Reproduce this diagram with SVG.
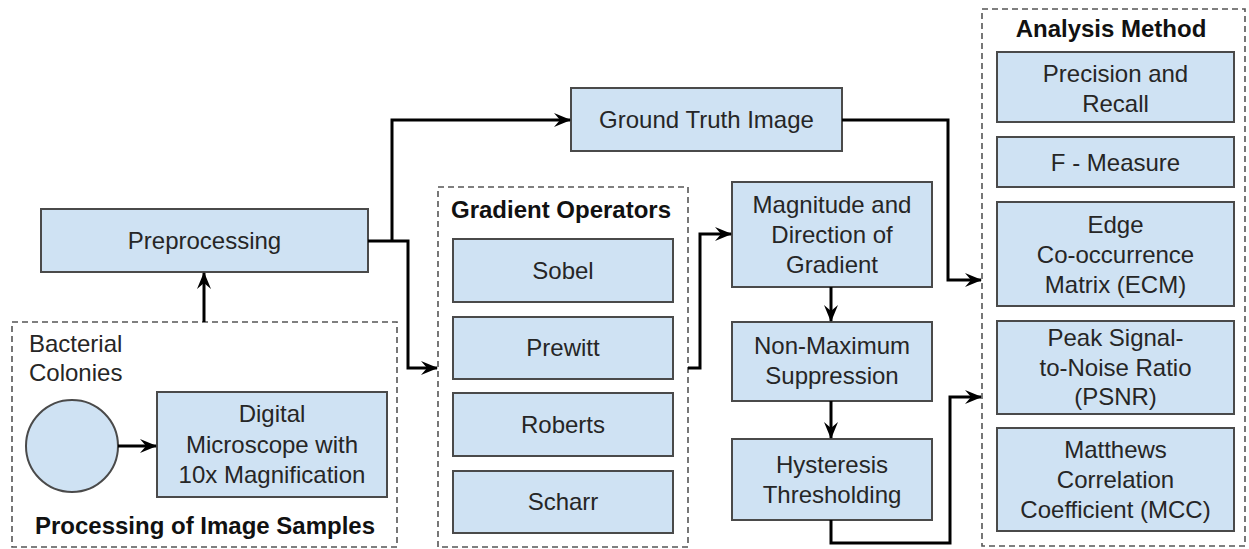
<svg xmlns="http://www.w3.org/2000/svg" width="1249" height="549" viewBox="0 0 1249 549">
<style>
.box{fill:#cfe2f3;stroke:#4a4a4a;stroke-width:2}
.grp{fill:none;stroke:#555;stroke-width:1.6;stroke-dasharray:6 4}
.t{font-family:"Liberation Sans",Arial,sans-serif;font-size:24px;fill:#262626;text-anchor:middle}
.b{font-weight:bold;fill:#111}
.l{text-anchor:start}
.c{fill:none;stroke:#000;stroke-width:3}
</style>
<defs>
<marker id="ah" markerUnits="userSpaceOnUse" viewBox="0 0 17 14" refX="16" refY="7" markerWidth="17" markerHeight="14" orient="auto">
<path d="M0,0 L17,7 L0,14 L6,7 Z" fill="#000"/>
</marker>
</defs>
<rect width="1249" height="549" fill="#fff"/>

<g id="processing-group">
<rect class="grp" x="12" y="322" width="385" height="225"/>
<text class="t l" x="29" y="352">Bacterial</text>
<text class="t l" x="29" y="381">Colonies</text>
<text class="t b" x="205" y="534">Processing of Image Samples</text>
</g>
<g id="bacterial-colonies">
<circle cx="72" cy="446" r="46" class="box"/>
</g>
<g id="digital-microscope">
<rect class="box" x="157" y="392" width="230" height="105"/>
<text class="t" x="272" y="422">Digital</text>
<text class="t" x="272" y="453">Microscope with</text>
<text class="t" x="272" y="483">10x Magnification</text>
</g>
<g id="preprocessing">
<rect class="box" x="41" y="209" width="327" height="63"/>
<text class="t" x="204.5" y="249">Preprocessing</text>
</g>
<g id="ground-truth">
<rect class="box" x="571" y="88" width="271" height="63"/>
<text class="t" x="706.5" y="128">Ground Truth Image</text>
</g>

<g id="gradient-operators">
<rect class="grp" x="438" y="187" width="250" height="360"/>
<text class="t b" x="561" y="218">Gradient Operators</text>
</g>
<g id="sobel"><rect class="box" x="453" y="239" width="220" height="63"/><text class="t" x="563" y="279">Sobel</text></g>
<g id="prewitt"><rect class="box" x="453" y="317" width="220" height="62"/><text class="t" x="563" y="356">Prewitt</text></g>
<g id="roberts"><rect class="box" x="453" y="393" width="220" height="63"/><text class="t" x="563" y="433">Roberts</text></g>
<g id="scharr"><rect class="box" x="453" y="471" width="220" height="62"/><text class="t" x="563" y="510">Scharr</text></g>

<g id="magnitude">
<rect class="box" x="732" y="182" width="200" height="105"/>
<text class="t" x="832" y="213">Magnitude and</text>
<text class="t" x="832" y="243">Direction of</text>
<text class="t" x="832" y="273">Gradient</text>
</g>
<g id="non-max">
<rect class="box" x="732" y="322" width="200" height="79"/>
<text class="t" x="832" y="354">Non-Maximum</text>
<text class="t" x="832" y="384">Suppression</text>
</g>
<g id="hysteresis">
<rect class="box" x="732" y="439" width="200" height="81"/>
<text class="t" x="832" y="473">Hysteresis</text>
<text class="t" x="832" y="503">Thresholding</text>
</g>

<g id="analysis-method">
<rect class="grp" x="982" y="9" width="263" height="537"/>
<text class="t b" x="1111" y="37">Analysis Method</text>
</g>
<g id="precision"><rect class="box" x="997" y="52" width="237" height="70"/><text class="t" x="1115.5" y="82">Precision and</text><text class="t" x="1115.5" y="112">Recall</text></g>
<g id="f-measure"><rect class="box" x="997" y="137" width="237" height="50"/><text class="t" x="1115.5" y="171">F - Measure</text></g>
<g id="ecm"><rect class="box" x="997" y="202" width="237" height="104"/><text class="t" x="1115.5" y="233">Edge</text><text class="t" x="1115.5" y="263">Co-occurrence</text><text class="t" x="1115.5" y="293">Matrix (ECM)</text></g>
<g id="psnr"><rect class="box" x="997" y="321" width="237" height="93"/><text class="t" x="1115.5" y="346">Peak Signal-</text><text class="t" x="1115.5" y="376">to-Noise Ratio</text><text class="t" x="1115.5" y="405">(PSNR)</text></g>
<g id="mcc"><rect class="box" x="997" y="428" width="237" height="103"/><text class="t" x="1115.5" y="458">Matthews</text><text class="t" x="1115.5" y="488">Correlation</text><text class="t" x="1115.5" y="518">Coefficient (MCC)</text></g>

<g id="connectors">
<path class="c" d="M204,322 V273" marker-end="url(#ah)"/>
<path class="c" d="M118,446 H156" marker-end="url(#ah)"/>
<path class="c" d="M368,241 H408 V368 H437" marker-end="url(#ah)"/>
<path class="c" d="M392,241 V120 H570" marker-end="url(#ah)"/>
<path class="c" d="M842,120 H948 V280 H981" marker-end="url(#ah)"/>
<path class="c" d="M688,368 H700 V234 H731" marker-end="url(#ah)"/>
<path class="c" d="M831,287 V321" marker-end="url(#ah)"/>
<path class="c" d="M831,401 V438" marker-end="url(#ah)"/>
<path class="c" d="M831,520 V543 H950 V397 H981" marker-end="url(#ah)"/>
</g>
</svg>
